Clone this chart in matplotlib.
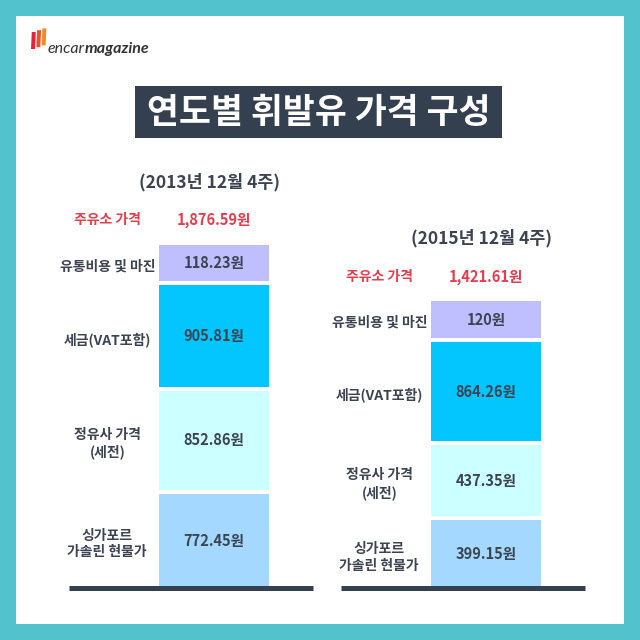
import matplotlib
matplotlib.use('Agg')
import matplotlib.pyplot as plt
import numpy as np
from matplotlib.patches import Rectangle, Polygon
from matplotlib.transforms import offset_copy

plt.rcParams['font.family'] = ['Noto Sans CJK KR', 'DejaVu Sans']

# ---------------- data ----------------
title = '연도별 휘발유 가격 구성'
brand_a = 'encar'
brand_b = 'magazine'
periods = ['(2013년 12월 4주)', '(2015년 12월 4주)']
pump_label = '주유소 가격'
pump_prices = [1876.59, 1421.61]
# stacked from bottom to top
categories = ['싱가포르\n가솔린 현물가', '정유사 가격\n(세전)', '세금(VAT포함)', '유통비용 및 마진']
values_2013 = [772.45, 852.86, 905.81, 118.23]
values_2015 = [399.15, 437.35, 864.26, 120.00]
unit = '원'

# ---------------- style ----------------
TEAL = '#52C3CC'
DARK = '#34404F'
TEXT = '#3C4351'
RED = '#E63C4B'
SEG_COLORS = ['#A4D8FF', '#CCFFFF', '#03C5FF', '#BFBFFF']
GAP = 1.2          # white gap between segments (display units)
LABEL_X = -0.97    # category label centre, relative to bar centre (bar width = 1)
DPI = 100


def fmt(v):
    s = f'{v:,.2f}'
    if s.endswith('.00'):
        s = s[:-3]
    return s + unit


fig = plt.figure(figsize=(6.4, 6.4), dpi=DPI, facecolor=TEAL)
renderer = fig.canvas.get_renderer()

# background / decoration layer in pixel coordinates
bg = fig.add_axes([0, 0, 1, 1], zorder=0)
bg.set_xlim(0, 640)
bg.set_ylim(640, 0)
bg.axis('off')
bg.add_patch(Rectangle((16, 16), 608, 608, facecolor='white', edgecolor='none'))

# logo stripes
stripe_cols = ['#E5223B', '#E9542B', '#F2892B']
for i, c in enumerate(stripe_cols):
    x0 = 31 + i * 5.3
    y_bot = 49 - i * 1.8
    y_top = 32 - i * 1.8
    bg.add_patch(Polygon([(x0, y_bot), (x0 + 4.0, y_bot), (x0 + 4.8, y_top), (x0 + 0.8, y_top)],
                         closed=True, facecolor=c, edgecolor='none'))
t_a = bg.text(48, 53, brand_a, fontsize=11.5, style='italic', color='#333333',
              family=['Lato', 'DejaVu Sans'], ha='left', va='baseline')
ext = t_a.get_window_extent(renderer=renderer)
x_b = bg.transData.inverted().transform((ext.x1, ext.y0))[0]
bg.text(x_b - 0.5, 53, brand_b, fontsize=11.5, style='italic', weight='bold', color='#333333',
        family=['Lato', 'DejaVu Sans'], ha='left', va='baseline')

# title box
bg.add_patch(Rectangle((135, 86), 367, 52, facecolor=DARK, edgecolor='none'))
bg.text(318.5, 113, title, fontsize=25, weight='black', color='white', ha='center', va='center')

# ---------------- bar panels ----------------
AX_BOTTOM_PX = 587.5
AX_TOP_PX = 160
ax_h = (AX_BOTTOM_PX - AX_TOP_PX) / 640
PX_PER_UNIT = 3.375
YMAX = (AX_BOTTOM_PX - AX_TOP_PX) / PX_PER_UNIT
panel_left_px = [69, 341]
panel_width_px = 244
bar_px = 110
bar_center_off_px = 145


def draw_panel(left_px, vals, period, pump):
    ax = fig.add_axes([left_px / 640, (640 - AX_BOTTOM_PX) / 640, panel_width_px / 640, ax_h],
                      zorder=2)
    ax.set_facecolor('none')
    x_lo = -bar_center_off_px / bar_px
    x_hi = (panel_width_px - bar_center_off_px) / bar_px
    ax.set_xlim(x_lo, x_hi)
    ax.set_ylim(0, YMAX)
    for s in ['left', 'right', 'top']:
        ax.spines[s].set_visible(False)
    ax.spines['bottom'].set_color(DARK)
    ax.spines['bottom'].set_linewidth(5 * 72 / DPI)
    ax.spines['bottom'].set_capstyle('butt')
    ax.set_xticks([])
    ax.set_yticks([])

    heights = np.sqrt(np.asarray(vals, dtype=float))  # compressed display scale
    bottoms = np.concatenate([[0.0], np.cumsum(heights[:-1] + GAP)])
    ax.bar(np.zeros(len(vals)), heights, bottom=bottoms, width=1.0,
           color=SEG_COLORS, edgecolor='none', zorder=1, clip_on=False)
    for b, h, v, cat in zip(bottoms, heights, vals, categories):
        ax.text(0, b + h / 2, fmt(v), fontsize=10.5, weight='bold', color=TEXT,
                ha='center', va='center', clip_on=False)
        ax.text(LABEL_X, b + h / 2 - 1.0, cat, fontsize=10, weight='bold', color=TEXT,
                ha='center', va='center', linespacing=1.25, clip_on=False)
    top = bottoms[-1] + heights[-1]
    red_tr = offset_copy(ax.transData, fig=fig, y=24.5, units='dots')
    ax.text(LABEL_X, top, pump_label, transform=red_tr, fontsize=10, weight='bold',
            color=RED, ha='center', va='center')
    ax.text(0, top, fmt(pump), transform=red_tr, fontsize=10.5, weight='bold',
            color=RED, ha='center', va='center')
    head_tr = offset_copy(ax.transData, fig=fig, y=62.5, units='dots')
    ax.text(-0.04, top, period, transform=head_tr, fontsize=12.5, weight='bold',
            color=TEXT, ha='center', va='center')


draw_panel(panel_left_px[0], values_2013, periods[0], pump_prices[0])
draw_panel(panel_left_px[1], values_2015, periods[1], pump_prices[1])

fig.savefig('out.png', dpi=DPI, facecolor=TEAL)
